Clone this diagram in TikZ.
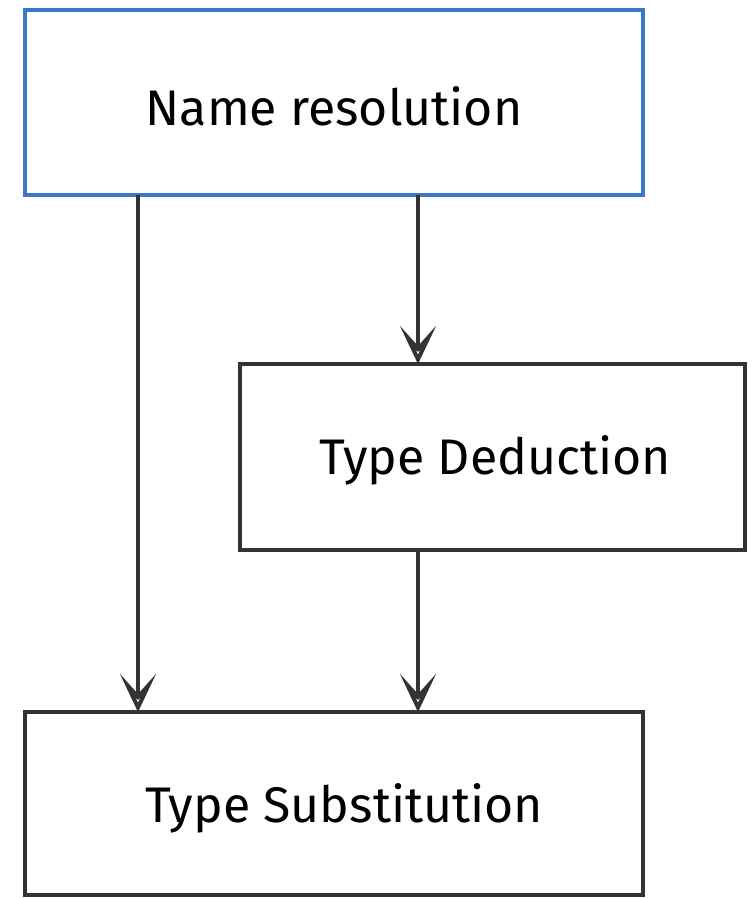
\documentclass[tikz,border=0pt]{standalone}
\usepackage{fontspec}
\setmainfont{Fira Sans}[FontFace={l}{n}{Font=* Light}]
\usetikzlibrary{arrows.meta}
\definecolor{sketchblue}{HTML}{3C78C8}
\definecolor{sketchgray}{HTML}{333333}
\tikzset{
  stagebox/.style={draw=sketchgray, line width=4pt, fill=white, inner sep=0pt},
  bluebox/.style={stagebox, draw=sketchblue},
  flow/.style={draw=sketchgray, line width=3.5pt,
    -{Stealth[length=38pt, width=36pt, inset=20pt, open, line width=4pt]}},
  label/.style={font=\fontsize{50}{56}\selectfont, text=black}
}
\begin{document}
\begin{tikzpicture}[x=1pt, y=-1pt]
\useasboundingbox (0,0) rectangle (752,898);
\fill[white] (0,0) rectangle (752,898);
% boxes
\draw[bluebox] (25,10) rectangle (643,195);
\node[label] (nr) at (334,106) {Name resolution};
\draw[stagebox] (240,364) rectangle (745,550);
\node[label] (td) at (495,460) {Type Deduction};
\draw[stagebox] (25,712) rectangle (643,895);
\node[label] (ts) at (344,808) {Type Substitution};
% connector endpoints
\coordinate (a1) at (138,195);
\coordinate (a1e) at (138,712);
\coordinate (a2) at (418,195);
\coordinate (a2e) at (418,364);
\coordinate (a3) at (418,550);
\coordinate (a3e) at (418,712);
\draw[flow] (a1) -- (a1e);
\draw[flow] (a2) -- (a2e);
\draw[flow] (a3) -- (a3e);
\end{tikzpicture}
\end{document}
